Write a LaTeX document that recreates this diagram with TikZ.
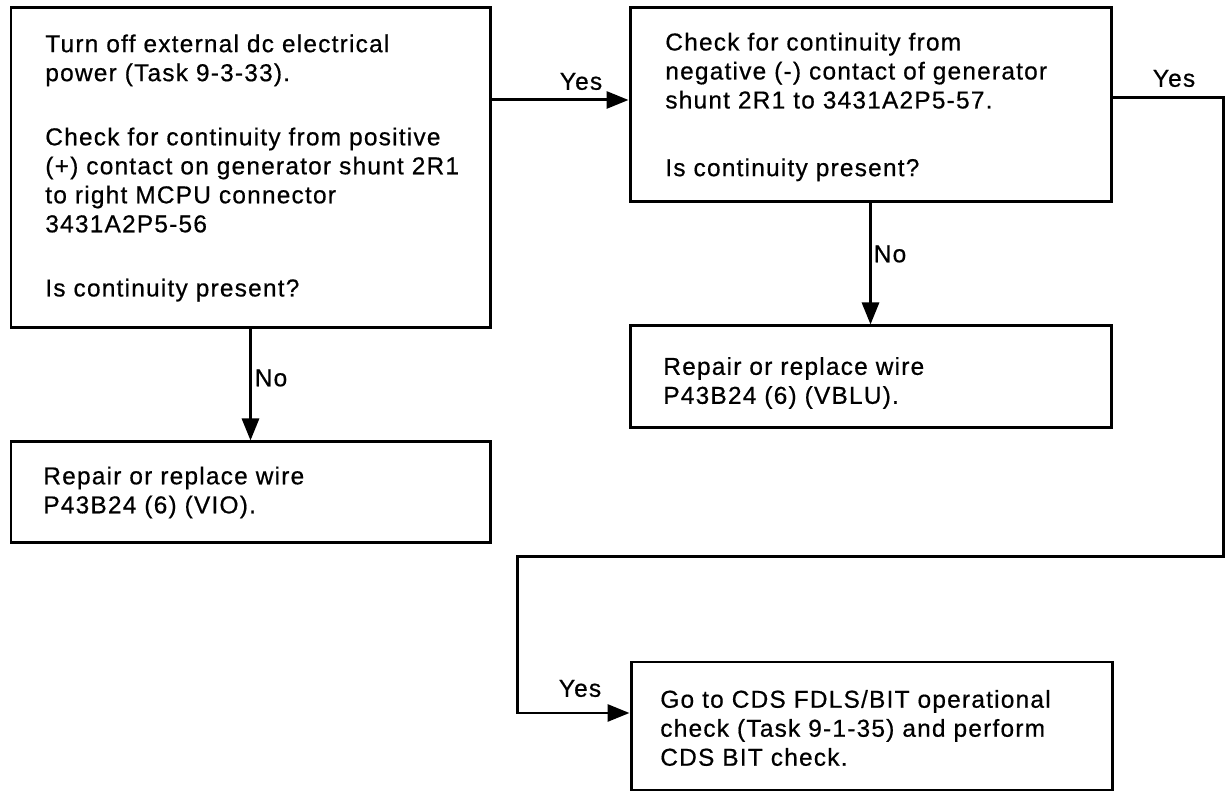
\documentclass[tikz,border=0pt]{standalone}
\usepackage{fontspec}
\setmainfont{Liberation Sans}[LetterSpace=5, FakeBold=0.6]
\usetikzlibrary{arrows.meta}

\begin{document}
\begin{tikzpicture}[
	box/.style={shape=rectangle, draw, line width=1.7pt, inner sep=0pt},
	txt/.style={anchor=west, align=left, inner sep=0pt, font=\fontsize{13.9pt}{16.5pt}\selectfont},
	lbl/.style={inner sep=0pt, font=\fontsize{13.9pt}{16.5pt}\selectfont},
	flow/.style={line width=1.7pt, -{Triangle[length=0.44cm, width=0.34cm]}}
]
	\useasboundingbox (0,0) rectangle (24.52,15.86);
	% Boxes and texts:
	\node[box, minimum width=9.58cm, minimum height=6.4cm] (chk1) at (5.01, 12.5){} node[txt] (t1) at (0.9, 12.5){Turn off external dc electrical\\power (Task 9-3-33).\\[20pt]Check for continuity from positive\\(+) contact on generator shunt 2R1\\to right MCPU connector\\3431A2P5-56\\[20pt]Is continuity present?};
	\node[box, minimum width=9.62cm, minimum height=3.88cm] (chk2) at (17.41, 13.76){} node[txt] (t2) at (13.3, 13.72){Check for continuity from\\negative (-) contact of generator\\shunt 2R1 to 3431A2P5-57.\\[22pt]Is continuity present?};
	\node[box, minimum width=9.62cm, minimum height=2.04cm] (rep2) at (17.41, 8.32){} node[txt] (t3) at (13.26, 8.2){Repair or replace wire\\P43B24 (6) (VBLU).};
	\node[box, minimum width=9.58cm, minimum height=2.02cm] (rep1) at (5.01, 6.01){} node[txt] (t4) at (0.86, 6.01){Repair or replace wire\\P43B24 (6) (VIO).};
	\node[box, minimum width=9.62cm, minimum height=2.56cm] (cds) at (17.43, 1.34){} node[txt] (t5) at (13.2, 1.3){Go to CDS FDLS/BIT operational\\check (Task 9-1-35) and perform\\CDS BIT check.};
	% Corners of the long Yes line:
	\coordinate (turnA) at (24.46, 4.72);
	\coordinate (turnB) at (10.34, 4.72);
	% Connectors:
	\draw[flow] ([yshift=0.1cm]chk2.west -| chk1.east) -- ([yshift=0.1cm]chk2.west);
	\draw[flow] (chk1.south) -- (chk1.south |- rep1.north);
	\draw[flow] (chk2.south) -- (rep2.north);
	\draw[flow] ([yshift=0.14cm]chk2.east) -| (turnA) -- (turnB) |- ([yshift=0.26cm]cds.west);
	% Labels:
	\node[lbl] (yes1) at (11.62, 14.23){Yes};
	\node[lbl] (yes2) at (23.48, 14.29){Yes};
	\node[lbl] (yes3) at (11.6, 2.09){Yes};
	\node[lbl] (no1) at (5.42, 8.3){No};
	\node[lbl] (no2) at (17.8, 10.78){No};
\end{tikzpicture}
\end{document}
